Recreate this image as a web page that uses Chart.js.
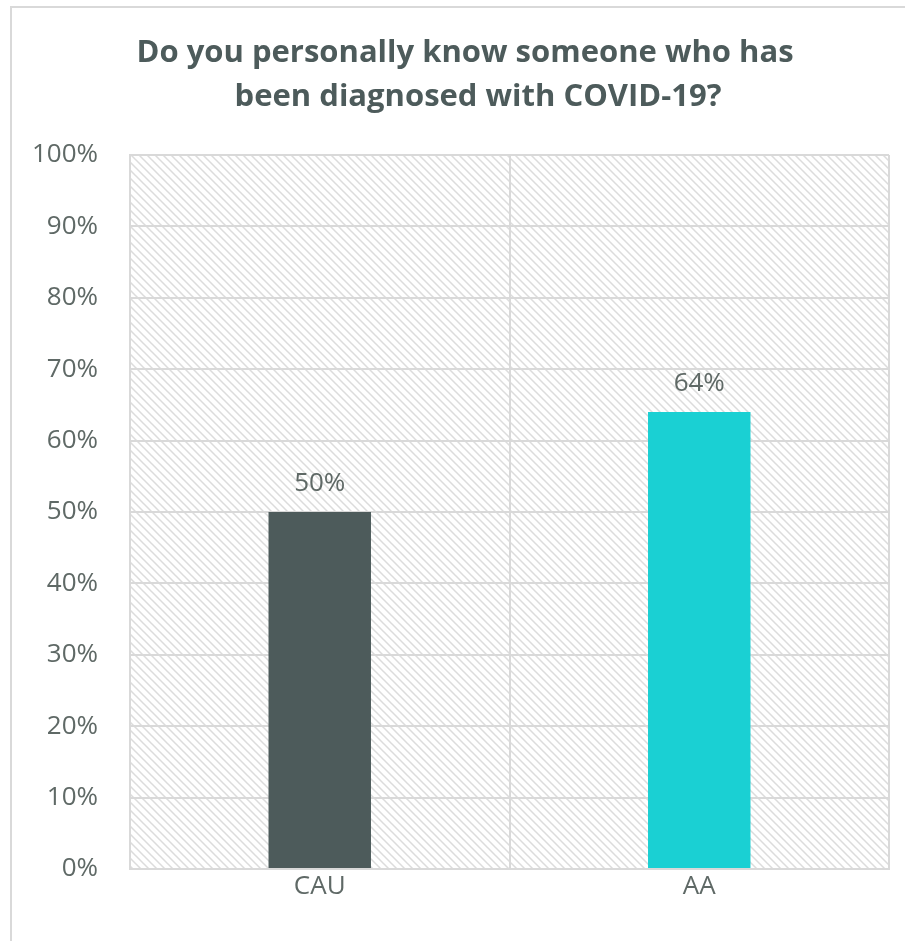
<!DOCTYPE html>
<html>
<head>
<meta charset="utf-8">
<script src="https://cdn.jsdelivr.net/npm/chart.js@4.4.1/dist/chart.umd.min.js"></script>
<style>
  html, body { margin: 0; padding: 0; background: #fff; }
  #wrap { width: 905px; height: 941px; position: relative; }
</style>
</head>
<body>
<div id="wrap"><canvas id="chart" width="905" height="941"></canvas></div>
<script>
// survey data
const categories = ['CAU', 'AA'];
const percentKnow = [50, 64];
const barColors = ['#4d5b5b', '#1ad0d3'];
const yTicks = [0, 10, 20, 30, 40, 50, 60, 70, 80, 90, 100];
const titleLines = ['Do you personally know someone who has', 'been diagnosed with COVID-19?'];

const FONT = "'Open Sans', 'Noto Sans', sans-serif";
const GRID = '#d9d9d9';
const TEXT = '#5f6966';

// diagonal hatch tile for the plot background
function hatchPattern(ctx) {
  const tile = document.createElement('canvas');
  tile.width = 8;
  tile.height = 8;
  const t = tile.getContext('2d');
  t.strokeStyle = '#dcdcdc';
  t.lineWidth = 1.5;
  t.beginPath();
  t.moveTo(-1, -1); t.lineTo(9, 9);
  t.moveTo(-1, 7); t.lineTo(1, 9);
  t.moveTo(7, -1); t.lineTo(9, 1);
  t.stroke();
  return ctx.createPattern(tile, 'repeat');
}

const backdrop = {
  id: 'backdrop',
  beforeDraw(chart) {
    const { ctx, chartArea: a } = chart;
    ctx.save();
    ctx.fillStyle = '#fff';
    ctx.fillRect(0, 0, chart.width, chart.height);
    // outer chart frame
    ctx.strokeStyle = '#d9d9d9';
    ctx.lineWidth = 2;
    ctx.strokeRect(11, 7, chart.width + 20, chart.height + 20);
    ctx.fillStyle = hatchPattern(ctx);
    ctx.fillRect(a.left, a.top, a.right - a.left, a.bottom - a.top);
    // title
    ctx.fillStyle = '#4d5b5b';
    ctx.font = 'bold 31px ' + FONT;
    ctx.textAlign = 'center';
    ctx.textBaseline = 'alphabetic';
    ctx.fillText(titleLines[0], 465, 62);
    ctx.fillText(titleLines[1], 478, 106);
    ctx.restore();
  },
  afterDatasetsDraw(chart) {
    const { ctx } = chart;
    const meta = chart.getDatasetMeta(0);
    ctx.save();
    ctx.fillStyle = TEXT;
    ctx.font = '26px ' + FONT;
    ctx.textAlign = 'center';
    ctx.textBaseline = 'alphabetic';
    meta.data.forEach((bar, i) => {
      ctx.fillText(percentKnow[i] + '%', bar.x, bar.y - 21);
    });
    ctx.restore();
  }
};

new Chart(document.getElementById('chart'), {
  type: 'bar',
  data: {
    labels: categories,
    datasets: [{
      data: percentKnow,
      backgroundColor: barColors,
      barPercentage: 0.27,
      categoryPercentage: 1
    }]
  },
  options: {
    responsive: false,
    animation: false,
    layout: { padding: { top: 155, right: 16, left: 0, bottom: 0 } },
    plugins: { legend: { display: false }, tooltip: { enabled: false } },
    scales: {
      x: {
        grid: { color: GRID, lineWidth: 2, drawTicks: false, offset: true },
        border: { color: GRID, width: 2 },
        ticks: { color: TEXT, font: { family: FONT, size: 26 }, padding: 2 },
        afterFit(scale) { scale.height = 72; }
      },
      y: {
        min: 0,
        max: 100,
        afterBuildTicks(scale) { scale.ticks = yTicks.map(v => ({ value: v })); },
        grid: { color: GRID, lineWidth: 2, drawTicks: false },
        border: { color: GRID, width: 2 },
        ticks: {
          color: TEXT,
          font: { family: FONT, size: 26 },
          padding: 32,
          callback: v => v + '%'
        },
        afterFit(scale) { scale.width = 130; }
      }
    }
  },
  plugins: [backdrop]
});
</script>
</body>
</html>
